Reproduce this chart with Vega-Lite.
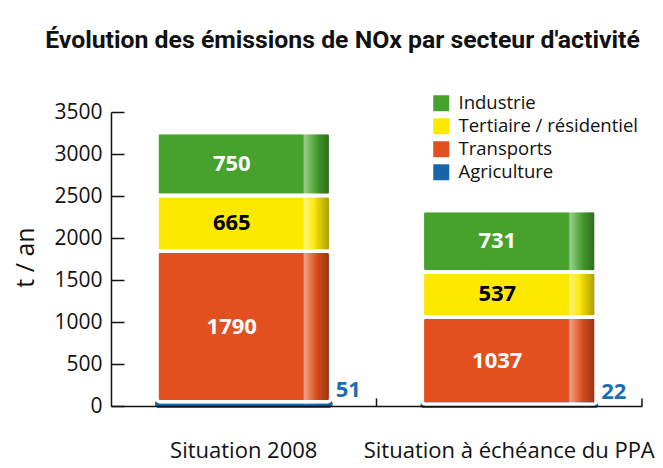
{
  "$schema": "https://vega.github.io/schema/vega-lite/v6.json",
  "width": 531,
  "height": 294,
  "autosize": {"type": "none"},
  "padding": {"left": 111, "top": 112, "right": 21, "bottom": 62},
  "background": "white",
  "title": {
    "text": "Évolution des émissions de NOx par secteur d'activité",
    "font": "Roboto",
    "fontSize": 24.8,
    "fontWeight": "bold",
    "color": "#111111",
    "anchor": "middle",
    "frame": "group",
    "dx": -34,
    "baseline": "alphabetic",
    "offset": 21
  },
  "data": {
    "values": [
      {"situation": "Situation 2008", "secteur": "Agriculture", "valeur": 51, "ordre": 1},
      {"situation": "Situation 2008", "secteur": "Transports", "valeur": 1790, "ordre": 2},
      {"situation": "Situation 2008", "secteur": "Tertiaire / résidentiel", "valeur": 665, "ordre": 3},
      {"situation": "Situation 2008", "secteur": "Industrie", "valeur": 750, "ordre": 4},
      {"situation": "Situation à échéance du PPA", "secteur": "Agriculture", "valeur": 22, "ordre": 1},
      {"situation": "Situation à échéance du PPA", "secteur": "Transports", "valeur": 1037, "ordre": 2},
      {"situation": "Situation à échéance du PPA", "secteur": "Tertiaire / résidentiel", "valeur": 537, "ordre": 3},
      {"situation": "Situation à échéance du PPA", "secteur": "Industrie", "valeur": 731, "ordre": 4}
    ]
  },
  "encoding": {
    "x": {
      "field": "situation",
      "type": "nominal",
      "sort": ["Situation 2008", "Situation à échéance du PPA"],
      "scale": {"paddingInner": 0.345, "paddingOuter": 0.1725},
      "axis": {
        "title": null,
        "labelAngle": 0,
        "labelFont": "Open Sans",
        "labelFontSize": 22,
        "labelColor": "#111111",
        "labelPadding": 34,
        "labelLimit": 0,
        "ticks": false,
        "domainColor": "#111111",
        "domainWidth": 1.5,
        "zindex": 1
      }
    }
  },
  "layer": [
    {
      "transform": [
        {"stack": "valeur", "groupby": ["situation"], "sort": [{"field": "ordre"}], "as": ["v0", "v1"]}
      ],
      "mark": {"type": "bar", "cornerRadius": 3, "strokeWidth": 3.5},
      "encoding": {
        "y": {
          "field": "v0",
          "type": "quantitative",
          "scale": {"domain": [0, 3500]},
          "axis": {
            "title": "t / an",
            "titleFont": "Open Sans",
            "titleFontSize": 25,
            "titleFontWeight": "normal",
            "titleColor": "#111111",
            "titleX": -86,
            "titleY": 145,
            "titleAngle": -90,
            "titleAlign": "center",
            "titleBaseline": "middle",
            "values": [0, 500, 1000, 1500, 2000, 2500, 3000, 3500],
            "format": "d",
            "grid": false,
            "labelFont": "Open Sans",
            "labelFontSize": 21,
            "labelColor": "#111111",
            "labelPadding": 22,
            "tickSize": -13,
            "tickColor": "#111111",
            "tickWidth": 1.5,
            "domainColor": "#111111",
            "domainWidth": 1.5,
            "zindex": 1
          }
        },
        "y2": {"field": "v1"},
        "color": {
          "field": "secteur",
          "type": "nominal",
          "scale": {
            "domain": ["Industrie", "Tertiaire / résidentiel", "Transports", "Agriculture"],
            "range": ["#47a22d", "#fde800", "#e2501f", "#1767a8"]
          },
          "legend": {
            "title": null,
            "orient": "none",
            "legendX": 321,
            "legendY": -18,
            "symbolType": "square",
            "symbolSize": 256,
            "symbolStrokeWidth": 0,
            "symbolOpacity": 1,
            "labelFont": "Open Sans",
            "labelFontSize": 18.5,
            "labelLimit": 0,
            "labelColor": "#111111",
            "labelOffset": 8,
            "rowPadding": 4
          }
        },
        "stroke": {
          "condition": {"test": "datum.secteur === 'Agriculture'", "value": "#1767a8"},
          "value": "white"
        }
      }
    },
    {
      "transform": [
        {"stack": "valeur", "groupby": ["situation"], "sort": [{"field": "ordre"}], "as": ["v0", "v1"]}
      ],
      "mark": {
        "type": "bar",
        "cornerRadius": 3,
        "strokeWidth": 3.5,
        "fill": {
          "gradient": "linear",
          "x1": 0, "x2": 1, "y1": 0, "y2": 0,
          "stops": [
            {"offset": 0, "color": "rgba(255,255,255,0)"},
            {"offset": 0.84, "color": "rgba(255,255,255,0)"},
            {"offset": 0.85, "color": "rgba(255,255,255,0.45)"},
            {"offset": 0.9, "color": "rgba(255,255,255,0.1)"},
            {"offset": 0.93, "color": "rgba(0,0,0,0.1)"},
            {"offset": 1, "color": "rgba(0,0,0,0.35)"}
          ]
        }
      },
      "encoding": {
        "y": {"field": "v0", "type": "quantitative"},
        "y2": {"field": "v1"},
        "stroke": {
          "condition": {"test": "datum.secteur === 'Agriculture'", "value": "#1767a8"},
          "value": "white"
        }
      }
    },
    {
      "transform": [
        {"stack": "valeur", "groupby": ["situation"], "sort": [{"field": "ordre"}], "as": ["v0", "v1"]},
        {"calculate": "(datum.v0 + datum.v1) / 2", "as": "vmid"},
        {"filter": "datum.secteur !== 'Agriculture'"}
      ],
      "mark": {"type": "text", "font": "Open Sans", "fontSize": 22, "fontWeight": "bold", "dx": -12, "baseline": "middle"},
      "encoding": {
        "y": {"field": "vmid", "type": "quantitative"},
        "text": {"field": "valeur", "type": "quantitative", "format": "d"},
        "color": {
          "condition": {"test": "datum.secteur === 'Tertiaire / résidentiel'", "value": "#000000"},
          "value": "white"
        }
      }
    },
    {
      "transform": [
        {"stack": "valeur", "groupby": ["situation"], "sort": [{"field": "ordre"}], "as": ["v0", "v1"]},
        {"filter": "datum.secteur === 'Agriculture'"}
      ],
      "mark": {"type": "text", "font": "Open Sans", "fontSize": 22, "fontWeight": "bold", "dx": 92, "dy": -5, "align": "left", "baseline": "alphabetic", "color": "#1a6fb0"},
      "encoding": {
        "y": {"field": "v1", "type": "quantitative"},
        "text": {"field": "valeur", "type": "quantitative", "format": "d"}
      }
    },
    {
      "data": {"values": [{"situation": "Situation à échéance du PPA", "t0": 0, "t1": 90}]},
      "mark": {"type": "rule", "color": "#111111", "strokeWidth": 1.5},
      "encoding": {
        "x": {"field": "situation", "type": "nominal", "bandPosition": -0.2633},
        "y": {"field": "t0", "type": "quantitative"},
        "y2": {"field": "t1"}
      }
    },
    {
      "data": {"values": [{"situation": "Situation à échéance du PPA", "t0": 0, "t1": 90}]},
      "mark": {"type": "rule", "color": "#111111", "strokeWidth": 1.5},
      "encoding": {
        "x": {"field": "situation", "type": "nominal", "bandPosition": 1.2633},
        "y": {"field": "t0", "type": "quantitative"},
        "y2": {"field": "t1"}
      }
    }
  ],
  "config": {"view": {"stroke": null}}
}
